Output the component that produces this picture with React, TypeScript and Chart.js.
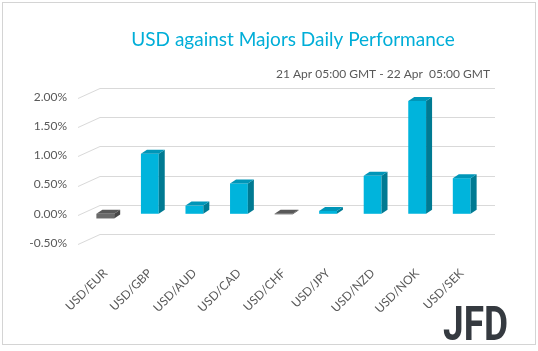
import React, { useEffect, useRef } from "react";
import { Chart, registerables } from "chart.js";

Chart.register(...registerables);

const categories = ["USD/EUR", "USD/GBP", "USD/AUD", "USD/CAD", "USD/CHF", "USD/JPY", "USD/NZD", "USD/NOK", "USD/SEK"];
const values = [-0.08, 1.03, 0.14, 0.52, -0.01, 0.05, 0.65, 1.93, 0.61];
const yTicks = [-0.5, 0, 0.5, 1, 1.5, 2];
const titleText = "USD against Majors Daily Performance";
const subtitleText = "21 Apr 05:00 GMT - 22 Apr  05:00 GMT";
const logoText = "JFD";

const POS = { front: "#00B4DC", side: "#007A92", top: "#0096B8" };
const NEG = { front: "#6a6a6a", side: "#474747", top: "#585858" };
const FONT = "Lato, 'Open Sans', sans-serif";

const decorPlugin = {
  id: "decor",
  beforeDraw(chart: any) {
    const ctx = chart.ctx;
    ctx.save();
    ctx.fillStyle = "#ffffff";
    ctx.fillRect(0, 0, chart.width, chart.height);
    ctx.strokeStyle = "#d4d4d4";
    ctx.lineWidth = 1;
    ctx.strokeRect(2.5, 2.5, 533, 342);
    // title
    ctx.fillStyle = "#00AED8";
    ctx.font = `19px ${FONT}`;
    ctx.textAlign = "center";
    ctx.textBaseline = "middle";
    ctx.fillText(titleText, 293, 40);
    ctx.fillStyle = "#595959";
    ctx.font = `12px ${FONT}`;
    ctx.textAlign = "right";
    ctx.fillText(subtitleText, 490, 74);
    // logo
    ctx.font = `bold 49px Roboto, sans-serif`;
    ctx.textAlign = "left";
    ctx.textBaseline = "alphabetic";
    const w = ctx.measureText(logoText).width;
    ctx.translate(443, 340);
    ctx.scale(65 / w, 1);
    ctx.fillStyle = "#353a40";
    ctx.fillText(logoText, 0, 0);
    ctx.restore();
  },
  beforeDatasetsDraw(chart: any) {
    const ctx = chart.ctx;
    const y = chart.scales.y;
    const area = chart.chartArea;
    ctx.save();
    ctx.strokeStyle = "#d9d9d9";
    ctx.lineWidth = 1;
    yTicks.forEach((v) => {
      const py = Math.round(y.getPixelForValue(v));
      ctx.beginPath();
      ctx.moveTo(area.left - 5, py + 1.5);
      ctx.lineTo(area.left + 17, py - 8.5);
      ctx.lineTo(area.right + 11, py - 8.5);
      ctx.stroke();
    });
    ctx.restore();
  },
  afterDatasetsDraw(chart: any) {
    const ctx = chart.ctx;
    const meta = chart.getDatasetMeta(0);
    const dx = 6;
    const dy = 4;
    ctx.save();
    meta.data.forEach((bar: any, i: number) => {
      const { x, y, base, width } = bar.getProps(["x", "y", "base", "width"], true);
      const left = x - width / 2;
      const right = x + width / 2;
      const top = Math.min(y, base);
      const bottom = Math.max(y, base);
      const c = values[i] >= 0 ? POS : NEG;
      ctx.fillStyle = c.side;
      ctx.beginPath();
      ctx.moveTo(right, top);
      ctx.lineTo(right + dx, top - dy);
      ctx.lineTo(right + dx, bottom - dy);
      ctx.lineTo(right, bottom);
      ctx.closePath();
      ctx.fill();
      ctx.fillStyle = c.top;
      ctx.beginPath();
      ctx.moveTo(left, top);
      ctx.lineTo(left + dx, top - dy);
      ctx.lineTo(right + dx, top - dy);
      ctx.lineTo(right, top);
      ctx.closePath();
      ctx.fill();
    });
    ctx.restore();
  },
};

export default function App() {
  const ref = useRef<HTMLCanvasElement>(null);
  useEffect(() => {
    document.body.style.margin = "0";
    if (!ref.current) return;
    const chart = new Chart(ref.current, {
      type: "bar",
      data: {
        labels: categories,
        datasets: [
          {
            data: values,
            backgroundColor: values.map((v) => (v >= 0 ? POS.front : NEG.front)),
            borderWidth: 0,
            barPercentage: 0.4,
            categoryPercentage: 1,
          },
        ],
      },
      options: {
        responsive: false,
        animation: false,
        layout: { padding: { left: 0, top: 97, right: 54, bottom: 0 } },
        plugins: { legend: { display: false }, tooltip: { enabled: false } },
        scales: {
          x: {
            grid: { display: false, drawTicks: false },
            border: { display: false },
            ticks: {
              minRotation: 45,
              maxRotation: 45,
              padding: 23,
              color: "#595959",
              font: { family: FONT, size: 12 },
            },
            afterFit(scale: any) {
              scale.height = 108;
            },
          },
          y: {
            min: -0.5,
            max: 2,
            grid: { display: false, drawTicks: false },
            border: { display: false },
            afterBuildTicks(scale: any) {
              scale.ticks = yTicks.map((v) => ({ value: v }));
            },
            ticks: {
              padding: 16,
              color: "#595959",
              font: { family: FONT, size: 12 },
              callback: (v: any) => Number(v).toFixed(2) + "%",
            },
            afterFit(scale: any) {
              scale.width = 83;
            },
          },
        },
      },
      plugins: [decorPlugin],
    });
    return () => chart.destroy();
  }, []);
  return <canvas ref={ref} width={538} height={351} style={{ display: "block" }} />;
}
